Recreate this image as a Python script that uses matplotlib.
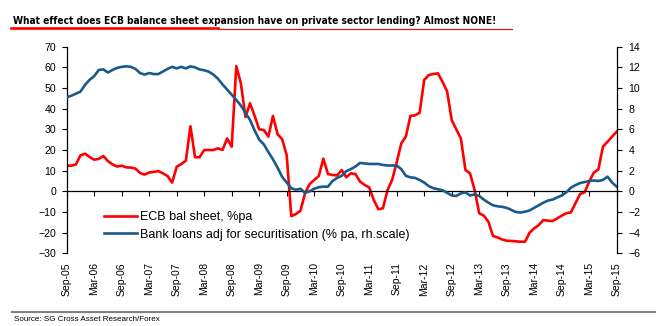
import matplotlib
matplotlib.use("Agg")
import matplotlib.pyplot as plt
from matplotlib.lines import Line2D
import numpy as np

plt.rcParams["font.family"] = ["Liberation Sans", "DejaVu Sans"]

# Monthly observations, Sep-05 .. Sep-15
ecb_bal_sheet = [
    12.4, 12.4, 13.0, 17.4, 18.2, 16.6, 15.3, 15.7, 17.1, 14.6,
    13.0, 12.0, 12.4, 11.6, 11.5, 11.0, 8.9, 8.1, 9.1, 9.4,
    9.8, 8.7, 7.4, 4.2, 11.9, 13.2, 14.8, 31.5, 16.5, 16.5,
    20.0, 20.0, 20.0, 20.8, 20.0, 25.6, 21.6, 60.6, 52.3, 36.0,
    42.6, 36.5, 30.0, 29.7, 26.5, 36.5, 27.7, 25.2, 17.5, -12.0,
    -11.0, -9.4, -1.0, 3.5, 5.5, 7.4, 15.8, 8.4, 7.9, 7.7,
    10.3, 6.8, 8.7, 8.4, 4.7, 3.1, 1.9, -4.2, -8.7, -8.2,
    0.6, 5.5, 14.0, 23.2, 26.5, 36.5, 36.8, 38.0, 53.9, 56.3,
    56.8, 57.1, 53.0, 48.4, 34.5, 30.0, 25.6, 10.3, 8.7, 0.6,
    -10.6, -11.8, -14.7, -21.6, -22.3, -23.3, -23.9, -24.0, -24.2, -24.4,
    -24.4, -20.0, -17.9, -16.3, -13.9, -14.2, -14.4, -13.1, -11.8, -10.6,
    -10.2, -5.8, -1.3, -0.5, 4.7, 9.0, 10.6, 21.6, 24.0, 26.5,
    28.9,
]

bank_loans = [
    9.1, 9.25, 9.45, 9.65, 10.3, 10.8, 11.15, 11.75, 11.8, 11.5,
    11.75, 11.95, 12.05, 12.1, 12.05, 11.85, 11.45, 11.3, 11.45, 11.35,
    11.35, 11.6, 11.85, 12.05, 11.9, 12.05, 11.9, 12.1, 12.0, 11.8,
    11.72, 11.58, 11.3, 10.9, 10.35, 9.85, 9.35, 8.85, 8.3, 7.6,
    6.9, 5.9, 5.0, 4.55, 3.8, 3.1, 2.3, 1.4, 0.85, 0.3,
    0.15, 0.25, -0.15, 0.0, 0.25, 0.4, 0.45, 0.45, 1.0, 1.3,
    1.5, 1.95, 2.15, 2.4, 2.75, 2.7, 2.65, 2.65, 2.65, 2.55,
    2.5, 2.5, 2.5, 2.15, 1.5, 1.35, 1.3, 1.1, 0.85, 0.5,
    0.3, 0.2, 0.1, -0.15, -0.4, -0.45, -0.2, -0.1, -0.4, -0.3,
    -0.45, -0.8, -1.1, -1.35, -1.45, -1.5, -1.6, -1.8, -2.0, -2.05,
    -1.97, -1.85, -1.6, -1.35, -1.1, -0.9, -0.8, -0.6, -0.4, -0.1,
    0.35, 0.6, 0.8, 0.9, 1.0, 1.05, 1.0, 1.1, 1.42, 0.85,
    0.45,
]

tick_labels = [
    "Sep-05", "Mar-06", "Sep-06", "Mar-07", "Sep-07", "Mar-08", "Sep-08",
    "Mar-09", "Sep-09", "Mar-10", "Sep-10", "Mar-11", "Sep-11", "Mar-12",
    "Sep-12", "Mar-13", "Sep-13", "Mar-14", "Sep-14", "Mar-15", "Sep-15",
]

title = ("What effect does ECB balance sheet expansion have on private "
         "sector lending? Almost NONE!")
source = "Source: SG Cross Asset Research/Forex"
label_ecb = "ECB bal sheet, %pa"
label_loans = "Bank loans adj for securitisation (% pa, rh.scale)"

RED = "#FF0000"
BLUE = "#1A5A8A"
W, H = 668, 326

months = np.arange(len(ecb_bal_sheet))
tick_pos = np.arange(0, 121, 6)

fig = plt.figure(figsize=(W / 100, H / 100), dpi=100)
fig.patch.set_facecolor("white")

ax = fig.add_axes([66.7 / W, 1 - 253.3 / H, 550 / W, 206.6 / H])
ax.set_xlim(0, 120)
ax.set_ylim(-30, 70)
ax.set_yticks(np.arange(-30, 71, 10))
ax.patch.set_visible(False)

ax2 = ax.twinx()
ax2.set_ylim(-6, 14)
ax2.set_yticks(np.arange(-6, 15, 2))

l1, = ax.plot(months, ecb_bal_sheet, color=RED, lw=1.9, solid_joinstyle="round")
l2, = ax2.plot(months, bank_loans, color=BLUE, lw=1.9, solid_joinstyle="round")

for a in (ax, ax2):
    a.spines["top"].set_visible(False)
ax.spines["right"].set_visible(False)
ax2.spines["left"].set_visible(False)
ax2.spines["bottom"].set_visible(False)
ax.spines["left"].set_linewidth(0.9)
ax2.spines["right"].set_linewidth(0.9)

# zero line carries the x tick marks
ax.spines["bottom"].set_position(("data", 0))
ax.spines["bottom"].set_linewidth(0.9)
ax.set_xticks(tick_pos)
ax.tick_params(axis="x", direction="out", length=3.5, width=0.8,
               labelbottom=False)
ax.tick_params(axis="y", direction="out", length=3.5, width=0.8,
               labelsize=7.6, pad=4)
ax2.tick_params(axis="y", direction="out", length=3.5, width=0.8,
                labelsize=7.6, pad=5)

# month labels sit below the plot area
sec = ax.secondary_xaxis("bottom")
sec.set_xticks(tick_pos, tick_labels, rotation=90)
sec.tick_params(length=0, pad=6.5, labelsize=7.5)
sec.spines["bottom"].set_visible(False)

leg = ax2.legend([l1, l2], [label_ecb, label_loans], loc="upper left",
                 bbox_to_anchor=(104 / W, 1 - 211 / H),
                 bbox_transform=fig.transFigure, frameon=False, fontsize=9,
                 handlelength=2.6, handletextpad=0.3, labelspacing=0.45,
                 borderpad=0, borderaxespad=0)

# title, fitted to its width in a condensed bold face
t = fig.text(13 / W, 1 - 24.5 / H, title, fontsize=10, fontweight="bold",
             family=["DejaVu Sans"], fontstretch="condensed",
             va="baseline", ha="left")
renderer = fig.canvas.get_renderer()
w = t.get_window_extent(renderer).width
t.set_fontsize(10 * 484 / w)

fig.add_artist(Line2D([11 / W, 218 / W], [1 - 28 / H] * 2, color=RED, lw=1.9))
fig.add_artist(Line2D([218 / W, 512 / W], [1 - 28.8 / H] * 2, color=RED, lw=0.8))

fig.add_artist(Line2D([12 / W, 655 / W], [1 - 311.8 / H] * 2,
                      color="#808080", lw=1.5))
fig.text(14 / W, 1 - 319.5 / H, source, fontsize=5.8, va="center", ha="left")

fig.savefig("out.png", dpi=100, facecolor="white")
